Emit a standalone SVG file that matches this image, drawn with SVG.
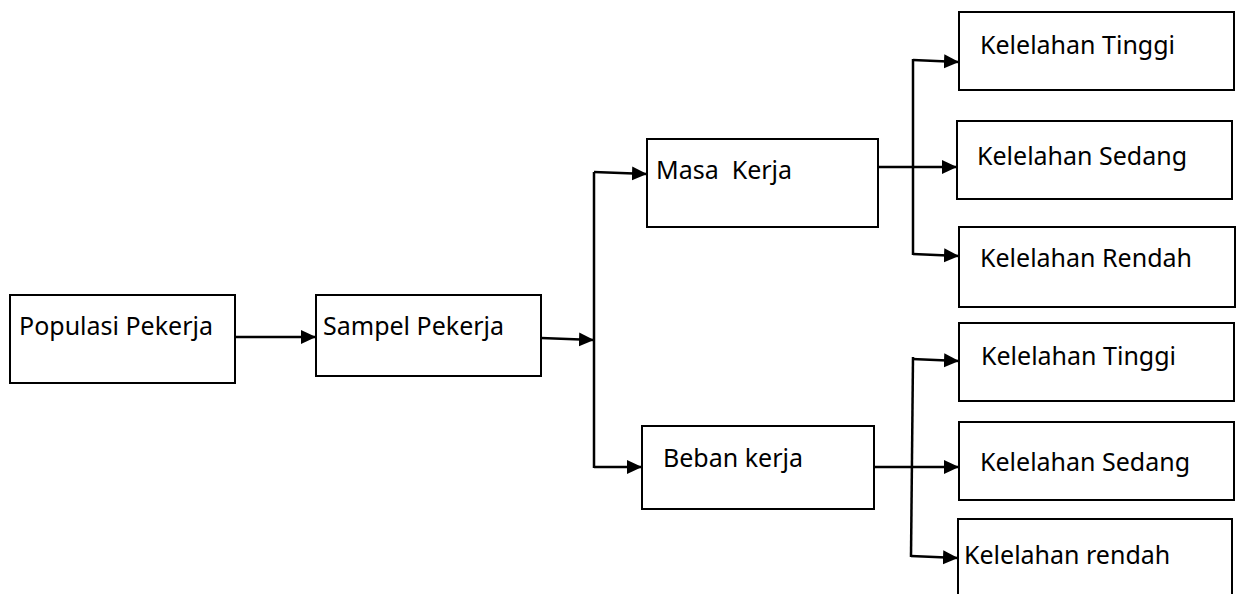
<svg xmlns="http://www.w3.org/2000/svg" width="1241" height="594" viewBox="0 0 1241 594">
<style>
.box{fill:#fff;stroke:#000;stroke-width:2}
.lbl{font-family:"Noto Sans","Open Sans","Liberation Sans",sans-serif;font-size:25px;fill:#000}
.ln{fill:none;stroke:#000;stroke-width:2.5}
.ar{fill:none;stroke:#000;stroke-width:2.5;marker-end:url(#ah)}
</style>
<defs>
<marker id="ah" markerUnits="userSpaceOnUse" markerWidth="18" markerHeight="16" refX="15" refY="7" orient="auto">
<path d="M0,0 L15,7 L0,14 Z" fill="#000"/>
</marker>
</defs>
<g id="n-populasi"><rect class="box" x="10" y="295" width="225" height="88"/><text class="lbl" x="19" y="335">Populasi Pekerja</text></g>
<g id="n-sampel"><rect class="box" x="316" y="295" width="225" height="81"/><text class="lbl" x="323" y="335">Sampel Pekerja</text></g>
<g id="n-masa"><rect class="box" x="647" y="139" width="231" height="88"/><text class="lbl" x="656" y="179" xml:space="preserve">Masa  Kerja</text></g>
<g id="n-beban"><rect class="box" x="642" y="426" width="232" height="83"/><text class="lbl" x="663" y="467">Beban kerja</text></g>
<g id="n-tinggi1"><rect class="box" x="959" y="12" width="275" height="78"/><text class="lbl" x="980" y="54">Kelelahan Tinggi</text></g>
<g id="n-sedang1"><rect class="box" x="957" y="121" width="275" height="78"/><text class="lbl" x="977" y="165">Kelelahan Sedang</text></g>
<g id="n-rendah1"><rect class="box" x="959" y="227" width="276" height="80"/><text class="lbl" x="980" y="267">Kelelahan Rendah</text></g>
<g id="n-tinggi2"><rect class="box" x="959" y="323" width="275" height="78"/><text class="lbl" x="981" y="365">Kelelahan Tinggi</text></g>
<g id="n-sedang2"><rect class="box" x="959" y="422" width="275" height="78"/><text class="lbl" x="980" y="471">Kelelahan Sedang</text></g>
<g id="n-rendah2"><path class="box" d="M958,600 L958,519 L1232,519 L1232,600"/><text class="lbl" x="964" y="564">Kelelahan rendah</text></g>
<g id="connectors">
<path class="ar" d="M235,337 L316,337"/>
<path class="ar" d="M541,338 L594,340"/>
<path class="ln" d="M594,172 L594,468"/>
<path class="ar" d="M594,172 L647,174"/>
<path class="ar" d="M594,467 L642,467"/>
<path class="ar" d="M878,167 L957,167"/>
<path class="ln" d="M913,59 L913,255"/>
<path class="ar" d="M913,60 L959,62"/>
<path class="ar" d="M913,254 L959,256"/>
<path class="ar" d="M873,467 L959,467"/>
<path class="ln" d="M913,357 L911,557"/>
<path class="ar" d="M912,359 L959,361"/>
<path class="ar" d="M911,556 L958,558"/>
</g>
</svg>
